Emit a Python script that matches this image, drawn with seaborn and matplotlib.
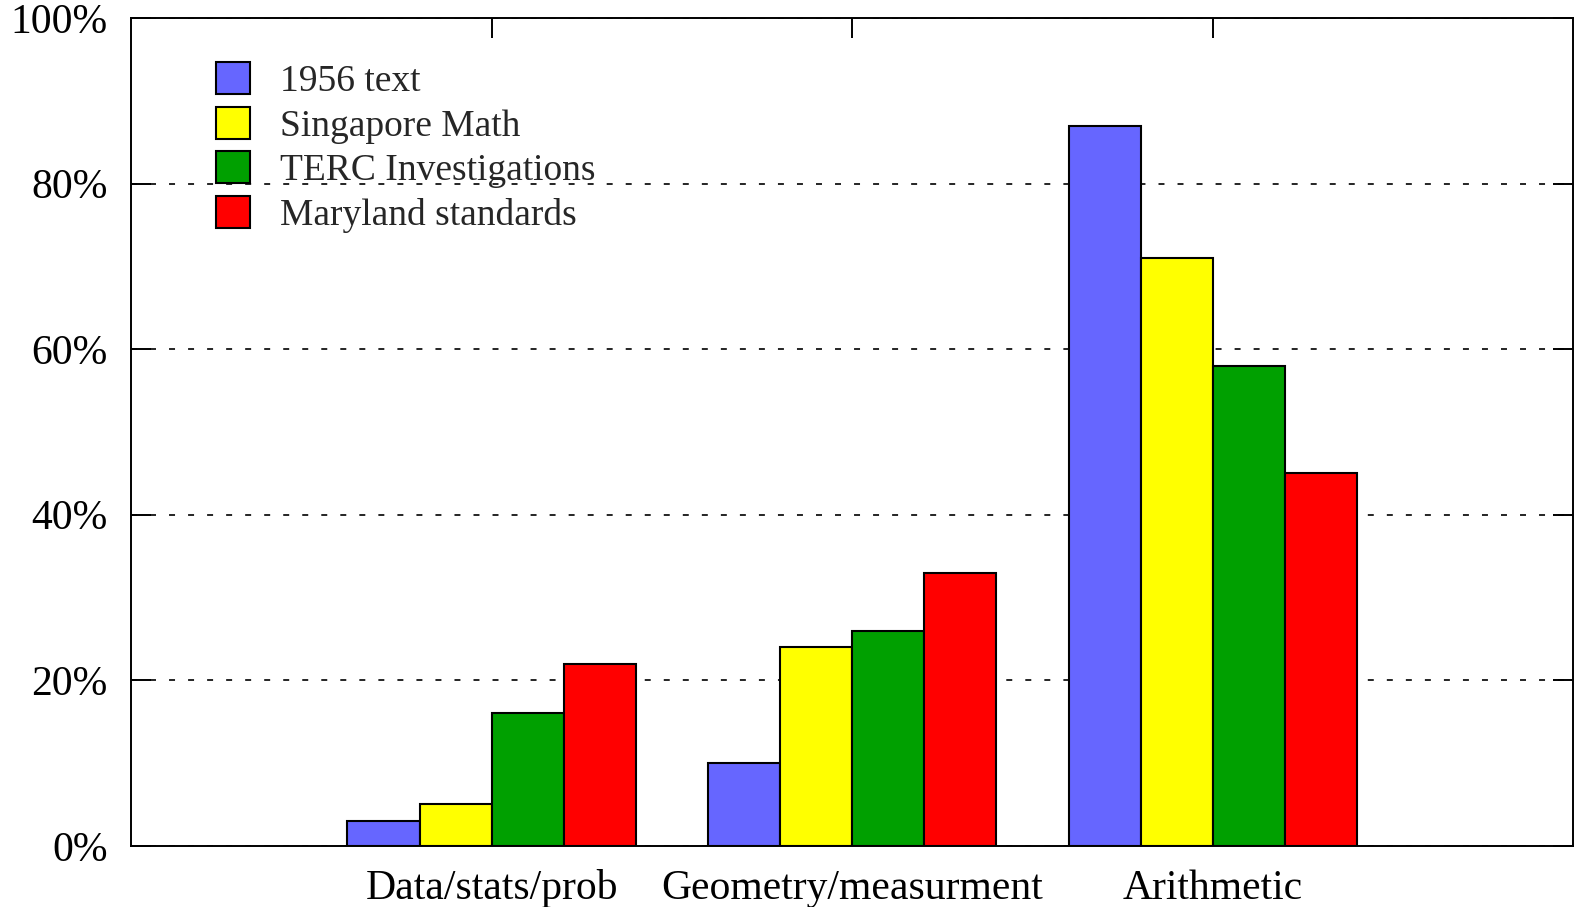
import pandas as pd
import matplotlib
matplotlib.use("Agg")
import matplotlib.pyplot as plt
import seaborn as sns
from matplotlib.ticker import PercentFormatter

# Data (percent of content by topic)
topics = ['Data/stats/prob', 'Geometry/measurment', 'Arithmetic']
series = ['1956 text', 'Singapore Math', 'TERC Investigations', 'Maryland standards']
text_1956 = [3, 10, 87]
singapore = [5, 24, 71]
terc = [16, 26, 58]
maryland = [22, 33, 45]
colors = ['#6666ff', '#ffff00', '#00a000', '#ff0000']

df = pd.DataFrame({
    'topic': topics * 4,
    'source': [s for s in series for _ in topics],
    'pct': text_1956 + singapore + terc + maryland,
})

sns.set_style('white')
plt.rcParams['font.family'] = ['Liberation Serif', 'DejaVu Serif']
plt.rcParams['lines.scale_dashes'] = False

fig = plt.figure(figsize=(15.75, 9.07), dpi=100)
ax = fig.add_axes([0.0832, 0.0675, 0.9158, 0.9125])

sns.barplot(data=df, x='topic', y='pct', hue='source', order=topics,
            hue_order=series, palette=colors, saturation=1,
            edgecolor='black', linewidth=1.5, width=0.8, ax=ax)

ax.set_xlim(-1, 3)
ax.set_ylim(0, 100)
ax.set_yticks([0, 20, 40, 60, 80, 100])
ax.yaxis.set_major_formatter(PercentFormatter(xmax=100, decimals=0))
ax.set_xlabel('')
ax.set_ylabel('')

# dashed horizontal grid behind the bars
ax.set_axisbelow(True)
ax.yaxis.grid(True, color='black', linewidth=1.2, linestyle=(0, (4.3, 9.4)))
ax.xaxis.grid(False)

for sp in ax.spines.values():
    sp.set_visible(True)
    sp.set_color('black')
    sp.set_linewidth(1.4)

ax.tick_params(axis='y', direction='in', length=14.4, width=1.4, left=True,
               right=True, labelsize=30, pad=17, colors='black')
ax.tick_params(axis='x', direction='in', length=14.4, width=1.4, bottom=True,
               top=True, labelsize=30, pad=17, colors='black')

ax.legend(loc='upper left', bbox_to_anchor=(0.059, 0.947), frameon=False,
          fontsize=27, handlelength=0.9, handleheight=0.95,
          handletextpad=0.8, labelspacing=0.2, borderpad=0, borderaxespad=0)

fig.savefig('out.png', dpi=100)
